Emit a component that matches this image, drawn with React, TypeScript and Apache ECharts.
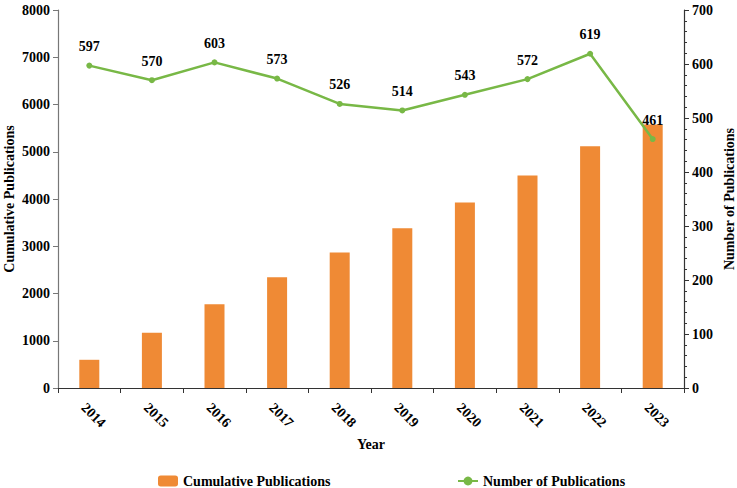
import React, { useEffect, useRef } from "react";
import * as echarts from "echarts";

const years = ["2014", "2015", "2016", "2017", "2018", "2019", "2020", "2021", "2022", "2023"];
const cumulative = [597, 1167, 1770, 2343, 2869, 3383, 3926, 4498, 5117, 5578];
const annual = [597, 570, 603, 573, 526, 514, 543, 572, 619, 461];

const FONT = "'Liberation Serif', 'Times New Roman', serif";

export default function App() {
  const ref = useRef<HTMLDivElement>(null);
  useEffect(() => {
    if (!ref.current) return;
    const chart = echarts.init(ref.current, undefined, { renderer: "svg" });
    const axisText = { fontFamily: FONT, fontWeight: "bold" as const, fontSize: 14, color: "#000" };
    const plain = (v: number) => String(v);
    chart.setOption({
      animation: false,
      textStyle: { fontFamily: FONT },
      grid: { left: 58, right: 53, top: 10, bottom: 100, containLabel: false, outerBoundsMode: "none" },
      legend: [
        {
          data: ["Cumulative Publications"],
          left: 153,
          top: 469,
          itemWidth: 20,
          itemHeight: 11,
          textStyle: { ...axisText },
        },
        {
          data: ["Number of Publications"],
          left: 452,
          top: 469,
          itemWidth: 20,
          itemHeight: 11,
          textStyle: { ...axisText },
        },
      ],
      xAxis: {
        type: "category",
        data: years,
        name: "Year",
        nameLocation: "middle",
        nameGap: 45,
        nameTextStyle: axisText,
        axisLine: { lineStyle: { color: "#333", width: 1.2 } },
        axisTick: { show: true, alignWithLabel: false, length: 5, lineStyle: { color: "#333" } },
        axisLabel: {
          ...axisText,
          rotate: -45,
          align: "center",
          verticalAlign: "middle",
          margin: 23,
          padding: [0, 0, 0, 12],
        },
      },
      yAxis: [
        {
          type: "value",
          min: 0,
          max: 8000,
          interval: 1000,
          name: "Cumulative Publications",
          nameLocation: "middle",
          nameGap: 42,
          nameMoveOverlap: false,
          nameTextStyle: axisText,
          axisLine: { show: true, lineStyle: { color: "#777", width: 1.2 } },
          axisTick: { show: true, length: 5, lineStyle: { color: "#777" } },
          axisLabel: { ...axisText, formatter: plain },
          splitLine: { show: false },
        },
        {
          type: "value",
          min: 0,
          max: 700,
          interval: 100,
          name: "Number of Publications",
          nameLocation: "middle",
          nameGap: 38,
          nameMoveOverlap: false,
          nameTextStyle: axisText,
          nameRotate: 90,
          axisLine: { show: true, lineStyle: { color: "#333", width: 1.2 } },
          axisTick: { show: true, length: 5, lineStyle: { color: "#333" } },
          minorTick: { show: true, splitNumber: 5, length: 3, lineStyle: { color: "#333" } },
          axisLabel: { ...axisText, formatter: plain },
          splitLine: { show: false },
        },
      ],
      series: [
        {
          name: "Cumulative Publications",
          type: "bar",
          data: cumulative,
          barWidth: 20,
          itemStyle: { color: "#EF8A35" },
          yAxisIndex: 0,
        },
        {
          name: "Number of Publications",
          type: "line",
          data: annual,
          yAxisIndex: 1,
          symbol: "circle",
          symbolSize: 6,
          lineStyle: { color: "#78B846", width: 2.5 },
          itemStyle: { color: "#78B846" },
          label: {
            show: true,
            position: "top",
            distance: 9,
            ...axisText,
          },
        },
      ],
    });
    return () => chart.dispose();
  }, []);
  return <div ref={ref} style={{ width: 737, height: 488, position: "absolute", left: 0, top: 0 }} />;
}
